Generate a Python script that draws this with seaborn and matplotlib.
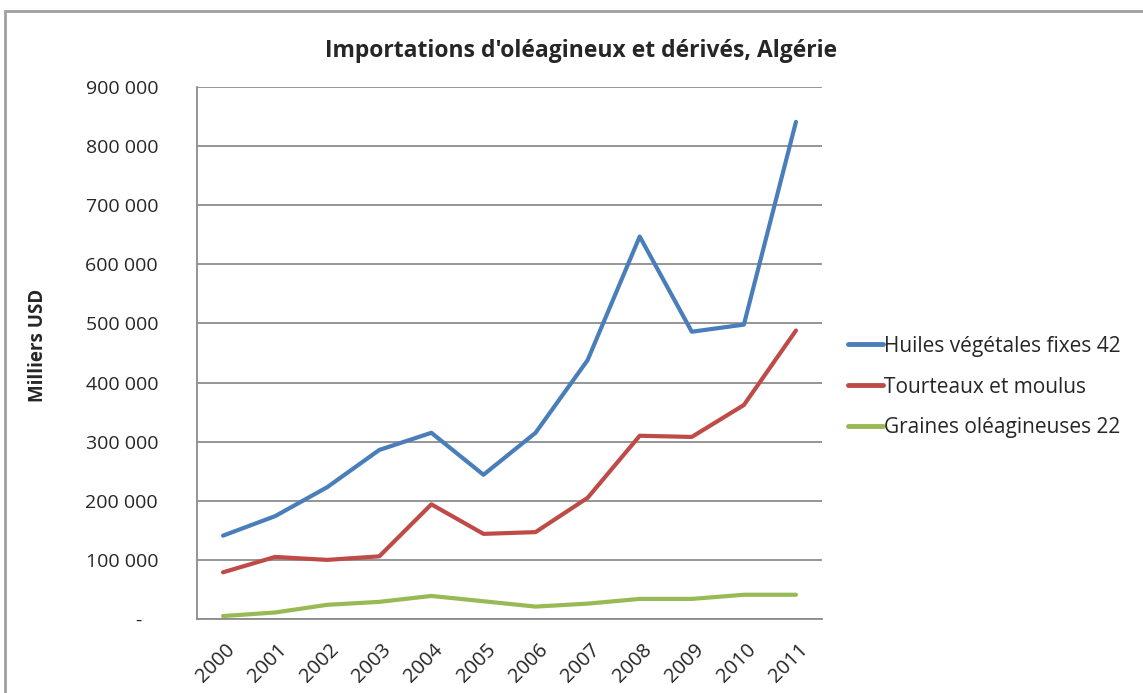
import matplotlib
matplotlib.use("Agg")
import matplotlib.pyplot as plt
import matplotlib.ticker as mticker
import matplotlib.transforms as mtransforms
from matplotlib.patches import Rectangle
import seaborn as sns
import pandas as pd

years = ["2000", "2001", "2002", "2003", "2004", "2005", "2006", "2007", "2008", "2009", "2010", "2011"]
huiles = [141000, 174000, 223000, 286000, 315000, 244000, 315000, 438000, 647000, 486000, 498000, 841000]
tourteaux = [79000, 105000, 100000, 106000, 194000, 144000, 147000, 205000, 310000, 308000, 362000, 488000]
graines = [5000, 11000, 24000, 29000, 39000, 30000, 21000, 26000, 34000, 34000, 41000, 41000]
series_names = ["Huiles végétales fixes 42", "Tourteaux et moulus", "Graines oléagineuses 22"]
colors = ["#4A7EBB", "#BE4B48", "#98B954"]

rows = []
for name, vals in zip(series_names, [huiles, tourteaux, graines]):
    for i, (y, v) in enumerate(zip(years, vals)):
        rows.append({"idx": i, "year": y, "value": v, "series": name})
df = pd.DataFrame(rows)

sns.set_theme(style="white")
plt.rcParams["font.family"] = ["Open Sans", "DejaVu Sans"]

fig = plt.figure(figsize=(11.43, 6.93), dpi=100)
ax = fig.add_axes([197/1143, 1 - 619/693, (822-197)/1143, (619-87)/693])

sns.lineplot(data=df, x="idx", y="value", hue="series", palette=colors,
             hue_order=series_names, linewidth=3, ax=ax, legend=True)

ax.set_xlim(-0.5, 11.5)
ax.set_ylim(0, 900000)
ax.set_yticks(range(0, 900001, 100000))
def fmt(v, pos):
    if v == 0:
        return "-   "
    return f"{int(v):,}".replace(",", " ")
ax.yaxis.set_major_formatter(mticker.FuncFormatter(fmt))
ax.set_xticks(range(len(years)))
ax.set_xticklabels(years, rotation=45, ha="right", rotation_mode="anchor", fontsize=14.5)
ax.tick_params(axis="both", length=0)
ax.tick_params(axis="y", labelsize=14, pad=28)
ax.tick_params(axis="x", pad=15)
offset = mtransforms.ScaledTranslation(2/100, 0, fig.dpi_scale_trans)
for lab in ax.get_xticklabels():
    lab.set_transform(lab.get_transform() + offset)
ax.grid(axis="y", color="#8c8c8c", linewidth=1.3)
ax.grid(axis="x", visible=False)
for s in ["top", "right"]:
    ax.spines[s].set_visible(False)
ax.spines["left"].set_color("#8c8c8c")
ax.spines["bottom"].set_color("#8c8c8c")
ax.spines["left"].set_linewidth(1.3)
ax.spines["bottom"].set_linewidth(1.3)
ax.set_xlabel("")
ax.set_ylabel("Milliers USD", fontsize=13.5, fontweight="bold")
ax.yaxis.set_label_coords((48-197)/625, (619-345)/532)

fig.text(581/1143, 1 - 51/693, "Importations d'oléagineux et dérivés, Algérie",
         fontsize=16.5, fontweight="bold", ha="center", va="center")

handles, labels = ax.get_legend_handles_labels()
leg = ax.legend(handles, labels, loc="center left", bbox_to_anchor=(1.011, 0.436),
                frameon=False, fontsize=15, handlelength=1.7, handletextpad=0.05,
                labelspacing=0.95)
for h in leg.get_lines():
    h.set_linewidth(3.5)

fig.patches.append(Rectangle((5/1143, -0.1), 1.2, 1 - 11/693 + 0.1, transform=fig.transFigure,
                             fill=False, edgecolor="#a0a0a0", linewidth=2))

fig.savefig("out.png", dpi=100)
